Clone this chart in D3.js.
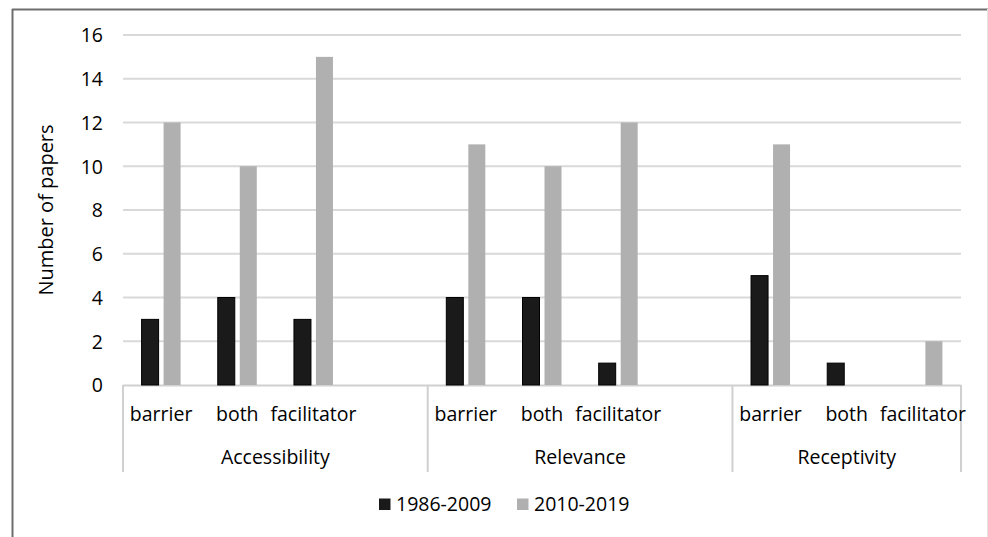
<!DOCTYPE html>
<html>
<head>
<meta charset="utf-8">
<script src="https://cdn.jsdelivr.net/npm/d3@7"></script>
<style>
  html, body { margin: 0; padding: 0; background: #fff; }
  svg { display: block; }
  text { font-family: "Open Sans", "DejaVu Sans", sans-serif; fill: #000; }
</style>
</head>
<body>
<svg id="chart" width="988" height="537"></svg>
<script>
// Papers per theme and type, split by publication period
const groups = ["Accessibility", "Relevance", "Receptivity"];
const subcategories = ["barrier", "both", "facilitator"];
const seriesNames = ["1986-2009", "2010-2019"];
const papers1986to2009 = [3, 4, 3, 4, 4, 1, 5, 1, 0];
const papers2010to2019 = [12, 10, 15, 11, 10, 12, 11, 0, 2];
const yTicks = [0, 2, 4, 6, 8, 10, 12, 14, 16];
const seriesColors = ["#1a1a1a", "#b0b0b0"];

const svg = d3.select("#chart");
const W = 988, H = 537;
const plot = { left: 123, right: 961, top: 35, bottom: 385 };
const labelSize = 19.5;

// Slots along the category axis: each theme's three types, with an empty slot between themes
const slots = [];
const rows = [];
groups.forEach((g, gi) => {
  subcategories.forEach((s, si) => {
    const id = g + "|" + s;
    slots.push(id);
    rows.push({ group: g, sub: s, id,
      values: [papers1986to2009[gi * 3 + si], papers2010to2019[gi * 3 + si]] });
  });
  if (gi < groups.length - 1) slots.push(g + "|gap");
});

const x = d3.scaleBand().domain(slots).range([plot.left, plot.right]).paddingInner(0).paddingOuter(0);
const barSpan = 39;
const x1 = d3.scaleBand().domain(seriesNames).range([0, barSpan]).paddingInner(5 / 22).paddingOuter(0);
const y = d3.scaleLinear().domain([0, 16]).range([plot.bottom, plot.top]);

// Outer frame
svg.append("line").attr("x1", 12).attr("x2", W).attr("y1", 9.5).attr("y2", 9.5)
  .attr("stroke", "#6e6e6e").attr("stroke-width", 2);
svg.append("line").attr("x1", 12.5).attr("x2", 12.5).attr("y1", 9).attr("y2", H)
  .attr("stroke", "#6e6e6e").attr("stroke-width", 2);
svg.append("line").attr("x1", 987.5).attr("x2", 987.5).attr("y1", 9).attr("y2", H)
  .attr("stroke", "#e4e4e4").attr("stroke-width", 1);

// Horizontal gridlines
svg.append("g").selectAll("line").data(yTicks.filter(d => d > 0)).join("line")
  .attr("x1", plot.left).attr("x2", plot.right)
  .attr("y1", d => y(d)).attr("y2", d => y(d))
  .attr("stroke", "#d9d9d9").attr("stroke-width", 2);

// Y axis tick labels
const yAxis = d3.axisLeft(y).tickValues(yTicks).tickSize(0).tickPadding(0).tickFormat(d3.format("d"));
const yg = svg.append("g").attr("transform", `translate(${plot.left - 20},0)`).call(yAxis);
yg.select(".domain").remove();
yg.selectAll("text").attr("font-size", labelSize).attr("dy", "0.35em")
  .style("font-family", '"Open Sans", sans-serif').attr("fill", "#000");

// Y axis title
svg.append("text")
  .attr("transform", "translate(53,210) rotate(-90)")
  .attr("text-anchor", "middle")
  .attr("font-size", 20)
  .text("Number of papers");

// Category axis baseline and theme separators
svg.append("line").attr("x1", plot.left).attr("x2", plot.right)
  .attr("y1", plot.bottom + 0.5).attr("y2", plot.bottom + 0.5)
  .attr("stroke", "#d0d0d0").attr("stroke-width", 2);

const groupBounds = groups.map((g, gi) => {
  const ids = rows.filter(r => r.group === g).map(r => r.id);
  const start = x(ids[0]);
  const end = gi < groups.length - 1 ? x(g + "|gap") + x.bandwidth() : x(ids[ids.length - 1]) + x.bandwidth();
  return { g, start, end, ids };
});
const sepX = [groupBounds[0].start].concat(groupBounds.map(b => b.end));
svg.append("g").selectAll("line").data(sepX).join("line")
  .attr("x1", d => d).attr("x2", d => d)
  .attr("y1", plot.bottom).attr("y2", 472)
  .attr("stroke", "#d0d0d0").attr("stroke-width", 2);

// Bars
const barG = svg.append("g");
rows.forEach(r => {
  const slotStart = x(r.id) + (x.bandwidth() - barSpan) / 2;
  r.values.forEach((v, i) => {
    if (v <= 0) return;
    barG.append("rect")
      .attr("x", slotStart + x1(seriesNames[i]))
      .attr("y", y(v))
      .attr("width", x1.bandwidth())
      .attr("height", y(0) - y(v))
      .attr("fill", seriesColors[i])
      .attr("stroke", i === 0 ? "#000" : "none")
      .attr("stroke-width", i === 0 ? 1 : 0);
  });
});

// Subcategory labels
svg.append("g").selectAll("text").data(rows).join("text")
  .attr("x", d => x(d.id) + x.bandwidth() / 2)
  .attr("y", 421)
  .attr("text-anchor", "middle")
  .attr("font-size", labelSize)
  .text(d => d.sub);

// Theme labels
svg.append("g").selectAll("text").data(groupBounds).join("text")
  .attr("x", d => (d.start + d.end) / 2)
  .attr("y", 464)
  .attr("text-anchor", "middle")
  .attr("font-size", labelSize)
  .text(d => d.g);

// Legend
const legend = svg.append("g");
const legendItems = [
  { name: seriesNames[0], color: seriesColors[0], x: 379 },
  { name: seriesNames[1], color: seriesColors[1], x: 517 }
];
legendItems.forEach(it => {
  legend.append("rect").attr("x", it.x).attr("y", 498.5).attr("width", 11.5).attr("height", 11.5)
    .attr("fill", it.color);
  legend.append("text").attr("x", it.x + 17).attr("y", 511).attr("font-size", labelSize).text(it.name);
});
</script>
</body>
</html>
